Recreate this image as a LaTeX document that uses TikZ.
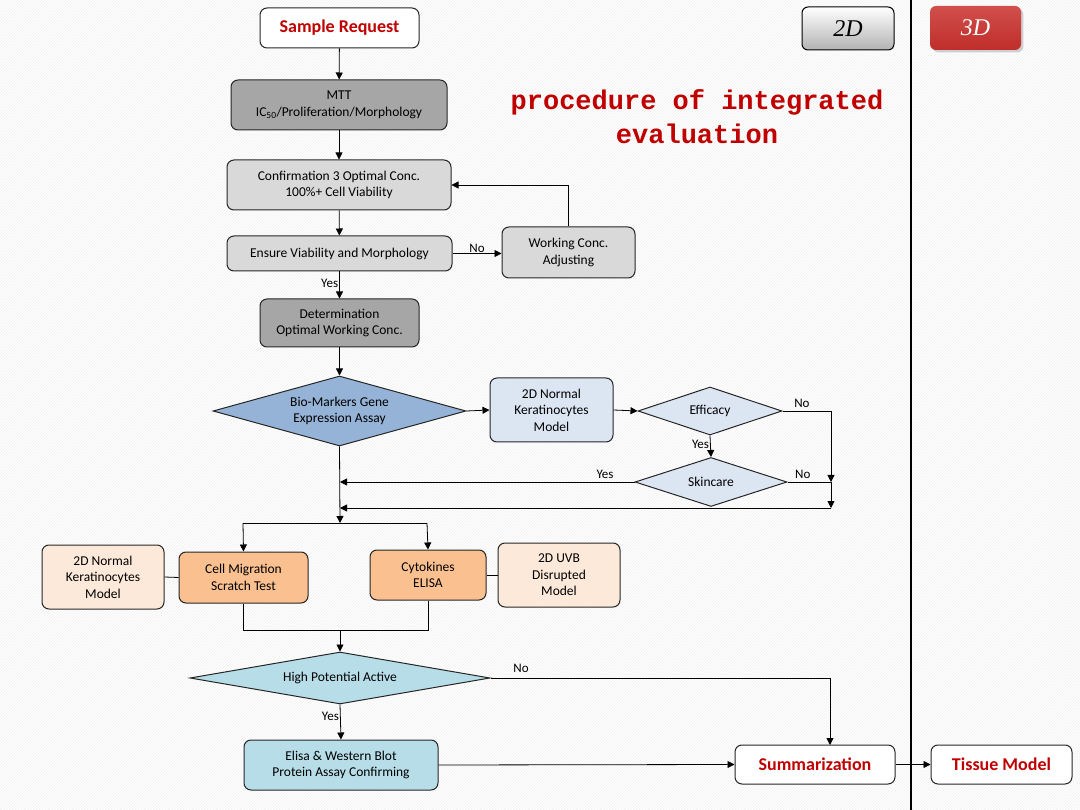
\documentclass[tikz,border=0pt]{standalone}
\usepackage{fontspec}
\setmainfont{Carlito}
\newfontfamily\titlefont{Liberation Mono}
\newfontfamily\btnfont{Liberation Serif}
\usetikzlibrary{shapes.geometric,arrows.meta,shadows,patterns}
\definecolor{gdark}{HTML}{A6A6A6}
\definecolor{glight}{HTML}{D9D9D9}
\definecolor{bdia}{HTML}{95B3D7}
\definecolor{blight}{HTML}{DCE6F2}
\definecolor{orng}{HTML}{FAC090}
\definecolor{peach}{HTML}{FDE9D9}
\definecolor{cyanl}{HTML}{B7DEE8}
\definecolor{redt}{HTML}{C00000}
\definecolor{btnred}{HTML}{C9302C}
\tikzset{
  box/.style={draw=black!85, rounded corners=7pt, line width=1pt, align=center, inner sep=2pt,
    font=\fontsize{13.5}{16.5}\selectfont},
  dia/.style={draw=black!85, diamond, line width=1pt, align=center, inner sep=0pt,
    font=\fontsize{13.5}{16.5}\selectfont},
  redbox/.style={box, fill=white, text=redt, font=\bfseries\fontsize{18}{20}\selectfont},
  arr/.style={-{Triangle[length=7pt,width=7pt]}, line width=0.8pt},
  ln/.style={line width=0.8pt},
  lbl/.style={font=\fontsize{13}{15}\selectfont, inner sep=1pt},
  btn/.style={rounded corners=6pt, font=\btnfont\itshape\fontsize{24}{26}\selectfont},
}
\begin{document}
\begin{tikzpicture}[x=1pt,y=-1pt]
\useasboundingbox (0,0) rectangle (1080,810);
\fill[white] (0,0) rectangle (1080,810);
\fill[pattern=north east lines, pattern color=black!6] (0,0) rectangle (1080,810);

% divider
\draw[line width=1.1pt] (911,0) -- (911,810);

% buttons
\node[btn, draw=black, line width=1pt, top color=white, bottom color=black!30,
  minimum width=92pt, minimum height=43pt] (b2d) at (848,28.5) {2D};
\node[btn, top color=btnred!85, bottom color=btnred!95!black, drop shadow={opacity=0.35},
  minimum width=91pt, minimum height=44pt, text=white] (b3d) at (975.5,28) {3D};

% title
\node[text=redt, align=center, font=\titlefont\bfseries\fontsize{27}{34}\selectfont] (title) at (697,117)
  {procedure of integrated\\evaluation};

% top chain
\node[redbox, minimum width=159pt, minimum height=40pt] (sr) at (339.5,28) {Sample Request};
\node[box, fill=gdark, minimum width=216pt, minimum height=50pt] (mtt) at (339,105)
  {MTT\\IC\textsubscript{50}/Proliferation/Morphology};
\node[box, fill=glight, minimum width=224pt, minimum height=50pt] (conf) at (339,185)
  {Confirmation 3 Optimal Conc.\\100\%+ Cell Viability};
\node[box, fill=glight, minimum width=225pt, minimum height=35pt] (ens) at (339.5,253.5)
  {Ensure Viability and Morphology};
\node[box, fill=glight, minimum width=133pt, minimum height=51pt] (wc) at (568.5,252.5)
  {Working Conc.\\Adjusting};
\node[box, fill=gdark, minimum width=159pt, minimum height=48pt] (det) at (339.5,323)
  {Determination\\Optimal Working Conc.};

% gene expression stage
\node[dia, fill=bdia, minimum width=253pt, minimum height=70pt, aspect=3.6] (bio) at (339.5,411)
  {Bio-Markers Gene\\Expression Assay};
\node[box, fill=blight, minimum width=123pt, minimum height=64pt] (k2d) at (551.5,410)
  {2D Normal\\Keratinocytes\\Model};
\node[dia, fill=blight, minimum width=144pt, minimum height=48pt, aspect=3] (eff) at (710,411) {Efficacy};
\node[dia, fill=blight, minimum width=152pt, minimum height=49pt, aspect=3.1] (skin) at (711,482) {Skincare};

\coordinate (ra) at (831,482);
\coordinate (rb) at (831,508);
\coordinate (ma) at (340,482);
\coordinate (mb) at (340,508);
\coordinate (ms) at (340,523);
\coordinate (sl) at (243,523);
\coordinate (sr2) at (427,523);

% assays
\node[box, fill=peach, minimum width=122pt, minimum height=64pt] (kl) at (103,577)
  {2D Normal\\Keratinocytes\\Model};
\node[box, fill=orng, minimum width=129pt, minimum height=51pt] (cm) at (243.5,577.5)
  {Cell Migration\\Scratch Test};
\node[box, fill=orng, minimum width=116pt, minimum height=50pt] (cy) at (428,575)
  {Cytokines\\ELISA};
\node[box, fill=peach, minimum width=122pt, minimum height=64pt] (uvb) at (559,575)
  {2D UVB\\Disrupted\\Model};
\coordinate (jl) at (243.5,630);
\coordinate (jr) at (428,630);
\coordinate (jm) at (340,630);

\node[dia, fill=cyanl, minimum width=300pt, minimum height=52pt, aspect=5.5] (hpa) at (340,678)
  {High Potential Active};
\node[box, fill=cyanl, minimum width=194pt, minimum height=50pt] (ewb) at (341,765)
  {Elisa \& Western Blot\\Protein Assay Confirming};
\node[redbox, minimum width=160pt, minimum height=39pt] (sum) at (815,764.5) {Summarization};
\node[redbox, minimum width=141pt, minimum height=39pt] (tm) at (1001.5,764.5) {Tissue Model};
\coordinate (sn) at (830,745);

% connectors
\draw[arr] (sr) -- (mtt);
\draw[arr] (mtt) -- (conf);
\draw[arr] (conf) -- (ens);
\draw[arr] (ens) -- node[lbl, left, pos=0.45] {Yes} (det);
\draw[arr] (ens.east) -- node[lbl, above, pos=0.5] {No} (ens.east -| wc.west);
\draw[arr] (wc.north) |- (conf.east);
\draw[arr] (det) -- (bio.north);
\draw[arr] (bio.east) -- (k2d.west);
\draw[arr] (k2d.east) -- (eff.west);
\draw[arr] (eff.south) -- node[lbl, left, pos=0.4] {Yes} (skin.north);
\draw[arr] (eff.east) -- node[lbl, above, pos=0.4, yshift=2pt] {No} (eff.east -| ra) -- (ra);
\draw[ln] (skin.east) -- node[lbl, above, pos=0.35, yshift=2pt] {No} (ra);
\draw[arr] (ra) -- (rb);
\draw[arr] (rb) -- (mb);
\draw[arr] (skin.west) -- node[lbl, above, pos=0.1, yshift=2pt] {Yes} (ma);
\draw[arr] (bio.south) -- (ms);
\draw[ln] (sl) -- (sr2);
\draw[arr] (sl) -- (cm.north);
\draw[arr] (sr2) -- (cy.north);
\draw[ln] (kl.east) -- (cm.west);
\draw[ln] (cy.east) -- (uvb.west);
\draw[ln] (cm.south) -- (jl) -- (jr) -- (cy.south);
\draw[arr] (jm) -- (hpa.north);
\draw[arr] (hpa.east) -- node[lbl, above, pos=0.09, yshift=4pt] {No} (hpa.east -| sn) -- (sn);
\draw[arr] (hpa.south) -- node[lbl, left, pos=0.35] {Yes} (ewb.north);
\draw[arr] (ewb.east) -- (sum.west);
\draw[arr] (sum.east) -- (tm.west);
\end{tikzpicture}
\end{document}
